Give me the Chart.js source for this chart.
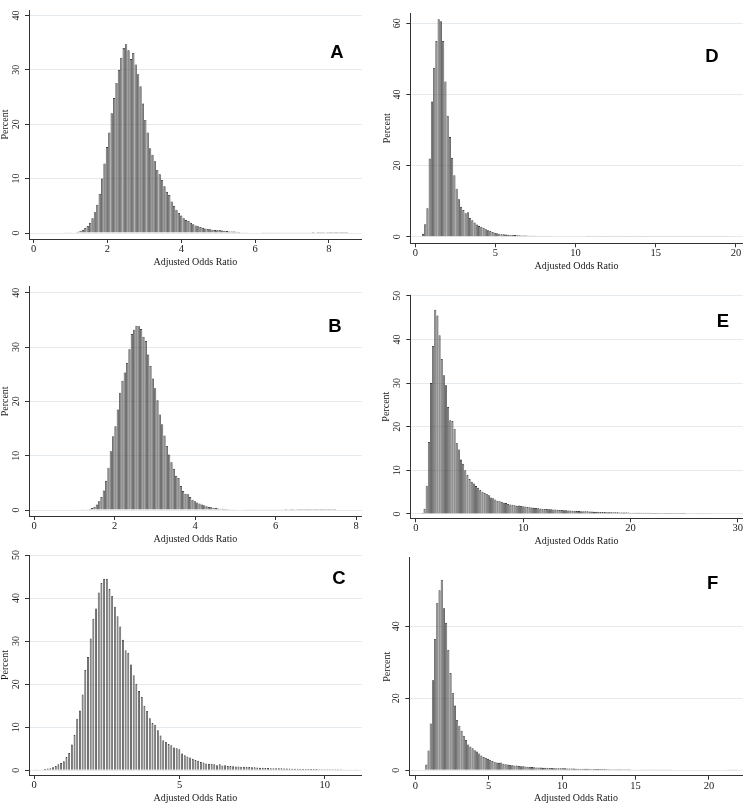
<!DOCTYPE html>
<html>
<head>
<meta charset="utf-8">
<title>Adjusted Odds Ratio histograms</title>
<script src="https://cdn.jsdelivr.net/npm/chart.js@4.4.1/dist/chart.umd.min.js"></script>
<style>
    body { margin: 0; background: #fff; }
    #wrap { position: relative; width: 753px; height: 811px; background: #fff; overflow: hidden; }
    #wrap canvas { position: absolute; }
</style>
</head>
<body>
<div id="wrap">
    <canvas id="chartA"></canvas>
    <canvas id="chartB"></canvas>
    <canvas id="chartC"></canvas>
    <canvas id="chartD"></canvas>
    <canvas id="chartE"></canvas>
    <canvas id="chartF"></canvas>
</div>
<script>
// Histogram data: first bin centre, bin width, percent per bin

// Panel A
const binStartA = 0.88, binWidthA = 0.065;
const percentA = [
    0.03, 0.03, 0.05, 0.08, 0.15, 0.25, 0.4, 0.6, 0.9, 1.3,
    1.9, 2.7, 3.8, 5.2, 7.2, 10.0, 12.8, 15.8, 18.5, 22.0,
    24.8, 27.6, 30.0, 32.2, 34.0, 34.7, 33.6, 32.0, 33.1, 31.0,
    29.2, 27.0, 23.8, 20.8, 18.5, 15.6, 14.4, 13.2, 11.6, 10.8,
    9.8, 8.6, 7.6, 7.0, 5.8, 5.0, 4.3, 3.7, 3.2, 2.7,
    2.4, 2.2, 1.9, 1.6, 1.4, 1.25, 1.1, 0.95, 0.85, 0.75,
    0.7, 0.6, 0.55, 0.5, 0.55, 0.45, 0.4, 0.35, 0.3, 0.3,
    0.28, 0.22, 0.18, 0.15, 0.13, 0.12, 0.11, 0.1, 0.1, 0.09,
    0.08, 0.08, 0.07, 0.07, 0.06, 0.06, 0.06, 0.05, 0.05, 0.05,
    0.05, 0.04, 0.04, 0.04, 0.04, 0.04, 0.03, 0.03, 0.03, 0.03,
    0.03, 0.03, 0.03, 0.02, 0.03, 0.02, 0.02, 0.02, 0.03, 0.02,
    0.02, 0.02, 0.02, 0.02, 0.02, 0.02, 0.02, 0.02
];
const xTicksA = [0, 2, 4, 6, 8];
const yTicksA = [0, 10, 20, 30, 40];

// Panel B
const binStartB = 1.15, binWidthB = 0.058;
const percentB = [
    0.04, 0.05, 0.08, 0.12, 0.2, 0.35, 0.6, 1.0, 1.6, 2.4,
    3.6, 5.4, 7.8, 10.8, 13.6, 15.4, 18.5, 21.6, 23.8, 25.3,
    27.1, 29.6, 32.4, 33.2, 33.9, 33.8, 33.3, 31.9, 31.1, 28.6,
    26.5, 24.2, 22.4, 20.2, 17.6, 15.8, 13.7, 11.8, 10.2, 8.8,
    7.6, 6.3, 5.9, 4.4, 3.5, 3.0, 2.9, 2.4, 1.9, 1.6,
    1.4, 1.2, 1.0, 0.9, 0.7, 0.55, 0.5, 0.4, 0.35, 0.3,
    0.25, 0.22, 0.2, 0.18, 0.15, 0.14, 0.12, 0.1, 0.1, 0.09,
    0.08, 0.07, 0.07, 0.06, 0.06, 0.05, 0.05, 0.05, 0.04, 0.04,
    0.04, 0.04, 0.03, 0.03, 0.03, 0.03, 0.03, 0.03, 0.02, 0.03,
    0.02, 0.02, 0.03, 0.02, 0.02, 0.02, 0.02, 0.02, 0.02, 0.02,
    0.02, 0.02, 0.02, 0.02, 0.02, 0.02, 0.02, 0.02, 0.02, 0.02
];
const xTicksB = [0, 2, 4, 6, 8];
const yTicksB = [0, 10, 20, 30, 40];

// Panel C
const binStartC = 0.0, binWidthC = 0.0925;
const percentC = [
    0.1, 0.1, 0.15, 0.2, 0.3, 0.4, 0.5, 0.7, 1.0, 1.4,
    1.7, 2.1, 3.1, 4.0, 6.0, 8.2, 12.0, 13.9, 17.6, 23.3,
    26.3, 30.6, 35.2, 37.6, 41.3, 43.5, 44.5, 44.5, 42.1, 40.5,
    38.0, 35.8, 33.4, 30.3, 27.9, 27.3, 24.6, 22.1, 20.1, 18.4,
    17.0, 15.0, 13.8, 12.1, 11.0, 10.6, 9.3, 8.1, 7.0, 6.6,
    6.1, 5.8, 5.3, 5.1, 4.9, 3.9, 3.5, 3.2, 3.0, 2.7,
    2.4, 2.2, 1.9, 1.8, 1.6, 1.5, 1.5, 1.4, 1.2, 1.4,
    1.1, 1.2, 1.0, 1.0, 0.95, 0.9, 0.9, 0.85, 0.8, 0.8,
    0.75, 0.7, 0.7, 0.65, 0.6, 0.6, 0.55, 0.55, 0.5, 0.5,
    0.5, 0.45, 0.45, 0.4, 0.4, 0.4, 0.38, 0.36, 0.35, 0.35,
    0.33, 0.32, 0.3, 0.3, 0.3, 0.28, 0.27, 0.26, 0.25, 0.25,
    0.25, 0.24, 0.23, 0.22, 0.22, 0.2, 0.2, 0.2, 0.18, 0.18,
    0.17
];
const xTicksC = [0, 5, 10];
const yTicksC = [0, 10, 20, 30, 40, 50];

// Panel D
const binStartD = 0.48, binWidthD = 0.14;
const percentD = [
    0.8, 3.5, 8.0, 22.0, 38.0, 47.5, 55.0, 61.1, 60.6, 55.0,
    43.6, 34.0, 28.0, 22.2, 17.3, 13.5, 10.5, 8.4, 7.5, 6.6,
    6.9, 5.3, 4.6, 4.0, 3.4, 3.0, 2.8, 2.5, 2.1, 1.8,
    1.6, 1.3, 1.1, 1.0, 0.85, 0.7, 0.65, 0.6, 0.55, 0.5,
    0.5, 0.45, 0.4, 0.38, 0.35, 0.33, 0.3, 0.28, 0.27, 0.25,
    0.24, 0.22, 0.21, 0.2, 0.19, 0.18, 0.17, 0.16, 0.15, 0.15,
    0.14, 0.13, 0.13, 0.12, 0.12, 0.11, 0.11, 0.1, 0.1, 0.1,
    0.09, 0.09, 0.09, 0.08, 0.08, 0.08, 0.08, 0.07, 0.07, 0.07,
    0.07, 0.06, 0.06, 0.06, 0.06, 0.06, 0.05, 0.05, 0.05, 0.05,
    0.05, 0.05, 0.05, 0.04, 0.04, 0.04, 0.04, 0.04, 0.04, 0.04,
    0.04, 0.04, 0.03, 0.03, 0.03, 0.03, 0.03, 0.03, 0.03, 0.03,
    0.03, 0.03, 0.03, 0.03, 0.03, 0.02, 0.03, 0.02, 0.02, 0.02,
    0.02, 0.02, 0.02, 0.02, 0.02, 0.02, 0.02, 0.02, 0.02, 0.02,
    0.02, 0.02, 0.02, 0.02, 0.02, 0.02, 0.02
];
const xTicksD = [0, 5, 10, 15, 20];
const yTicksD = [0, 20, 40, 60];

// Panel E
const binStartE = 0.6, binWidthE = 0.2;
const percentE = [
    0.2, 1.2, 6.5, 16.5, 30.0, 38.5, 46.8, 45.5, 41.0, 35.5,
    31.8, 29.5, 24.5, 21.5, 21.3, 19.5, 16.3, 14.8, 12.5, 11.5,
    10.0, 9.0, 8.0, 7.4, 7.0, 6.4, 6.0, 5.5, 5.1, 4.8,
    4.6, 4.3, 3.8, 3.6, 3.3, 3.0, 2.9, 2.8, 2.6, 2.5,
    2.3, 2.2, 2.1, 2.0, 1.9, 1.95, 1.85, 1.8, 1.7, 1.6,
    1.55, 1.5, 1.4, 1.35, 1.3, 1.25, 1.2, 1.15, 1.15, 1.1,
    1.1, 1.05, 1.0, 0.95, 0.9, 0.9, 0.85, 0.85, 0.8, 0.8,
    0.75, 0.75, 0.7, 0.7, 0.65, 0.65, 0.6, 0.6, 0.55, 0.55,
    0.5, 0.5, 0.5, 0.45, 0.45, 0.45, 0.4, 0.4, 0.4, 0.4,
    0.38, 0.37, 0.36, 0.35, 0.34, 0.33, 0.32, 0.31, 0.3, 0.3,
    0.3, 0.28, 0.28, 0.27, 0.27, 0.26, 0.26, 0.25, 0.25, 0.25,
    0.24, 0.24, 0.23, 0.23, 0.22, 0.22, 0.22, 0.21, 0.21, 0.2,
    0.2, 0.2, 0.2, 0.19, 0.19, 0.18, 0.18, 0.18, 0.17, 0.17,
    0.16, 0.16, 0.15, 0.15, 0.14, 0.14, 0.13, 0.12, 0.11, 0.1
];
const xTicksE = [0, 10, 20, 30];
const yTicksE = [0, 10, 20, 30, 40, 50];

// Panel F
const binStartF = 0.6, binWidthF = 0.15;
const percentF = [
    0.2, 1.6, 5.5, 13.0, 25.0, 36.5, 46.5, 50.0, 52.9, 45.0,
    41.0, 33.5, 27.0, 21.5, 18.0, 14.0, 12.4, 11.0, 9.6, 8.5,
    7.2, 6.6, 6.1, 5.6, 5.2, 4.7, 4.1, 3.7, 3.5, 3.2,
    2.9, 2.6, 2.4, 2.2, 2.1, 2.2, 1.8, 1.7, 1.6, 1.5,
    1.4, 1.35, 1.3, 1.2, 1.15, 1.1, 1.05, 1.0, 0.95, 0.9,
    0.85, 0.8, 0.78, 0.75, 0.72, 0.7, 0.68, 0.65, 0.63, 0.6,
    0.6, 0.58, 0.56, 0.55, 0.54, 0.52, 0.5, 0.5, 0.48, 0.46,
    0.45, 0.44, 0.43, 0.42, 0.4, 0.4, 0.38, 0.37, 0.36, 0.35,
    0.35, 0.34, 0.33, 0.32, 0.31, 0.3, 0.3, 0.29, 0.28, 0.28,
    0.27, 0.27, 0.26, 0.26, 0.25, 0.25, 0.25, 0.24, 0.24, 0.23,
    0.23, 0.22, 0.22, 0.22, 0.21, 0.21, 0.21, 0.2, 0.2, 0.2,
    0.19, 0.19, 0.19, 0.18, 0.18, 0.18, 0.17, 0.17, 0.17, 0.16,
    0.16, 0.16, 0.15, 0.15, 0.15, 0.15, 0.14, 0.14, 0.14, 0.14,
    0.13, 0.13, 0.13, 0.13, 0.12, 0.12, 0.12, 0.12, 0.11, 0.11,
    0.11, 0.1, 0.1
];
const xTicksF = [0, 5, 10, 15, 20];
const yTicksF = [0, 20, 40];

const xTitle = 'Adjusted Odds Ratio';
const yTitle = 'Percent';


// Layout of each panel (canvas box + axis ranges)
const panels = [
    { id: 'chartA', letter: 'A', start: binStartA, width: binWidthA, values: percentA, xTicks: xTicksA, yTicks: yTicksA,
      box: [0, 0, 376, 272], yWidth: 29, xHeight: 33, padTop: 10, padRight: 14.3,
      xRange: [-0.127, 8.89], yRange: [-1.1, 41.0], xTitlePad: 4, yTitlePad: -1, letterAt: [337, 53], barPct: 0.95 },
    { id: 'chartB', letter: 'B', start: binStartB, width: binWidthB, values: percentB, xTicks: xTicksB, yTicks: yTicksB,
      box: [0, 272, 376, 276], yWidth: 29, xHeight: 32, padTop: 14.7, padRight: 14.3,
      xRange: [-0.13, 8.14], yRange: [-1.1, 41.1], xTitlePad: 3, yTitlePad: -1, letterAt: [335, 55], barPct: 0.95 },
    { id: 'chartC', letter: 'C', start: binStartC, width: binWidthC, values: percentC, xTicks: xTicksC, yTicks: yTicksC,
      box: [0, 548, 376, 263], yWidth: 29, xHeight: 36, padTop: 7, padRight: 14.3,
      xRange: [-0.18, 11.27], yRange: [-1.09, 50], xTitlePad: 7, yTitlePad: -1, letterAt: [339, 31], barPct: 0.7 },
    { id: 'chartD', letter: 'D', start: binStartD, width: binWidthD, values: percentD, xTicks: xTicksD, yTicks: yTicksD,
      box: [376, 0, 377, 276], yWidth: 34.3, xHeight: 32.7, padTop: 13.3, padRight: 10.3,
      xRange: [-0.31, 20.42], yRange: [-1.86, 62.8], xTitlePad: 4, yTitlePad: 5, letterAt: [336, 57], barPct: 0.95 },
    { id: 'chartE', letter: 'E', start: binStartE, width: binWidthE, values: percentE, xTicks: xTicksE, yTicks: yTicksE,
      box: [376, 272, 377, 276], yWidth: 34.3, xHeight: 29.7, padTop: 23, padRight: 10.3,
      xRange: [-0.53, 30.47], yRange: [-0.99, 50.2], xTitlePad: 0.3, yTitlePad: 4, letterAt: [347, 50], barPct: 0.95 },
    { id: 'chartF', letter: 'F', start: binStartF, width: binWidthF, values: percentF, xTicks: xTicksF, yTicks: yTicksF,
      box: [376, 548, 377, 263], yWidth: 33.3, xHeight: 35.3, padTop: 9.7, padRight: 10.3,
      xRange: [-0.41, 22.3], yRange: [-1.5, 59.06], xTitlePad: 7, yTitlePad: 5, letterAt: [336.7, 36], barPct: 0.95 }
];

Chart.defaults.font.family = '"Liberation Serif", "DejaVu Serif", serif';
Chart.defaults.color = '#1a1a1a';

// Stata style y labels are turned on their side, so they are drawn here
// from the y scale; the panel letter goes in the top right corner
const sideLabels = {
    id: 'sideLabels',
    afterDraw(chart, args, opts) {
        const ctx = chart.ctx;
        const yScale = chart.scales.y;

        ctx.save();
        ctx.fillStyle = '#1a1a1a';
        ctx.font = '10px "Liberation Serif"';
        ctx.textAlign = 'center';
        ctx.textBaseline = 'middle';
        yScale.ticks.forEach(t => {
            ctx.save();
            ctx.translate(yScale.right - 12.5, yScale.getPixelForValue(t.value));
            ctx.rotate(-Math.PI / 2);
            ctx.fillText(String(t.value), 0, 0);
            ctx.restore();
        });

        ctx.fillStyle = '#000';
        ctx.font = 'bold 18.5px "Liberation Sans", Arial, sans-serif';
        ctx.fillText(opts.letter, opts.at[0], opts.at[1]);
        ctx.restore();
    }
};

const makeHistogram = p => {
    const canvas = document.getElementById(p.id);
    canvas.width = p.box[2];
    canvas.height = p.box[3];
    canvas.style.left = p.box[0] + 'px';
    canvas.style.top = p.box[1] + 'px';

    const bars = p.values.map((v, i) => ({ x: p.start + i * p.width, y: v }));

    return new Chart(canvas.getContext('2d'), {
        type: 'bar',
        data: {
            datasets: [{
                data: bars,
                backgroundColor: '#808080',
                borderColor: '#222222',
                borderWidth: 0.7,
                borderSkipped: 'start',
                barPercentage: p.barPct,
                categoryPercentage: 1
            }]
        },
        options: {
            responsive: false,
            animation: false,
            devicePixelRatio: 1,
            layout: { padding: { left: 0, top: p.padTop, right: p.padRight, bottom: 0 } },
            plugins: {
                legend: { display: false },
                tooltip: { enabled: false },
                sideLabels: { letter: p.letter, at: p.letterAt }
            },
            scales: {
                x: {
                    type: 'linear',
                    bounds: 'data',
                    offset: false,
                    min: p.xRange[0],
                    max: p.xRange[1],
                    afterBuildTicks: s => { s.ticks = p.xTicks.map(v => ({ value: v })); },
                    afterFit: s => { s.height = p.xHeight; },
                    grid: { offset: false, drawOnChartArea: false, drawTicks: true, tickLength: 4, tickColor: '#333' },
                    border: { color: '#333', width: 1 },
                    ticks: {
                        autoSkip: false, maxRotation: 0, padding: 0,
                        font: { size: 10.5 },
                        callback: v => String(v)
                    },
                    title: { display: true, text: xTitle, font: { size: 10 }, padding: { top: 0, bottom: p.xTitlePad } }
                },
                y: {
                    type: 'linear',
                    bounds: 'data',
                    min: p.yRange[0],
                    max: p.yRange[1],
                    afterBuildTicks: s => { s.ticks = p.yTicks.map(v => ({ value: v })); },
                    afterFit: s => { s.width = p.yWidth; },
                    grid: { color: '#e4eaed', lineWidth: 1, drawTicks: true, tickLength: 4, tickColor: '#333' },
                    border: { color: '#333', width: 1 },
                    ticks: { display: false },
                    title: { display: true, text: yTitle, font: { size: 10 }, padding: { top: p.yTitlePad, bottom: 0 } }
                }
            }
        },
        plugins: [sideLabels]
    });
};

panels.forEach(makeHistogram);
</script>
</body>
</html>
